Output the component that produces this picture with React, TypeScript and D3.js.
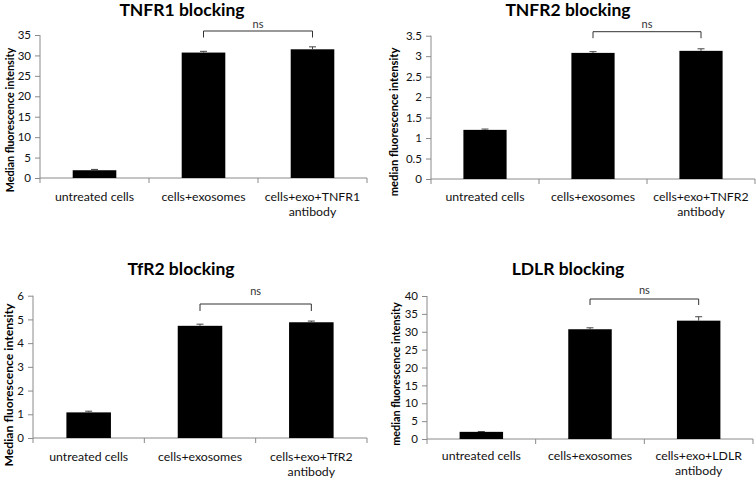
import { useRef, useEffect } from "react";
import * as d3 from "d3";

const baseCategories = ["untreated cells", "cells+exosomes"];

const tnfr1Values = [1.9, 30.7, 31.5];
const tnfr1Errors = [0.2, 0.3, 0.6];
const tnfr1Ticks = [0, 5, 10, 15, 20, 25, 30, 35];

const tnfr2Values = [1.2, 3.08, 3.13];
const tnfr2Errors = [0.02, 0.03, 0.05];
const tnfr2Ticks = [0, 0.5, 1, 1.5, 2, 2.5, 3, 3.5];

const tfr2Values = [1.08, 4.73, 4.88];
const tfr2Errors = [0.05, 0.07, 0.05];
const tfr2Ticks = [0, 1, 2, 3, 4, 5, 6];

const ldlrValues = [2.0, 30.7, 33.1];
const ldlrErrors = [0.1, 0.4, 1.1];
const ldlrTicks = [0, 5, 10, 15, 20, 25, 30, 35, 40];

const FONT = "Lato, 'Open Sans', sans-serif";

const panels = [
  {
    title: "TNFR1 blocking", yLabel: "Median fluorescence intensity", target: "TNFR1",
    values: tnfr1Values, errors: tnfr1Errors, ticks: tnfr1Ticks,
    x0: 40, x1: 367, yTop: 35, yBot: 178, titleX: 182, titleY: 16,
    labX: 9, labY: 120, labSize: 10.8, nsY: 28, brY: 31, brDrop: 6.5, xlY: 201,
  },
  {
    title: "TNFR2 blocking", yLabel: "median fluorescence intensity", target: "TNFR2",
    values: tnfr2Values, errors: tnfr2Errors, ticks: tnfr2Ticks,
    x0: 431, x1: 755, yTop: 35.7, yBot: 179, titleX: 568, titleY: 16,
    labX: 393, labY: 122, labSize: 11.2, nsY: 28, brY: 31.7, brDrop: 6.5, xlY: 201,
  },
  {
    title: "TfR2 blocking", yLabel: "Median fluorescence intensity", target: "TfR2",
    values: tfr2Values, errors: tfr2Errors, ticks: tfr2Ticks,
    x0: 33, x1: 367, yTop: 295.7, yBot: 438, titleX: 181, titleY: 275,
    labX: 8, labY: 385, labSize: 12.2, nsY: 295, brY: 304, brDrop: 7, xlY: 461,
  },
  {
    title: "LDLR blocking", yLabel: "median fluorescence intensity", target: "LDLR",
    values: ldlrValues, errors: ldlrErrors, ticks: ldlrTicks,
    x0: 427, x1: 753, yTop: 296, yBot: 439, titleX: 568, titleY: 275,
    labX: 395, labY: 374, labSize: 10.8, nsY: 294, brY: 299, brDrop: 6, xlY: 460,
  },
];

export default function App() {
  const svgRef = useRef<SVGSVGElement>(null);

  useEffect(() => {
    const svg = d3.select(svgRef.current);
    svg.selectAll("*").remove();
    svg.append("rect").attr("width", 756).attr("height", 480).attr("fill", "#fff");

    panels.forEach((p) => {
      const cats = [...baseCategories, `cells+exo+${p.target} antibody`];
      const g = svg.append("g");

      const x = d3.scaleBand<string>().domain(cats).range([p.x0, p.x1]).paddingInner(0.6).paddingOuter(0.3);
      const step = (p.x1 - p.x0) / cats.length;
      const yMax = p.ticks[p.ticks.length - 1];
      const y = d3.scaleLinear().domain([0, yMax]).range([p.yBot, p.yTop]);

      // Title
      g.append("text")
        .attr("x", p.titleX).attr("y", p.titleY)
        .attr("text-anchor", "middle")
        .attr("font-family", FONT).attr("font-weight", 700).attr("font-size", 17.5)
        .attr("fill", "#000").text(p.title);

      // Y axis
      g.append("g")
        .attr("transform", `translate(${p.x0},0)`)
        .call(d3.axisLeft(y).tickValues(p.ticks).tickSize(5).tickPadding(4).tickFormat((d) => String(d)))
        .call((a) => {
          a.select(".domain").attr("stroke", "#8a8a8a").attr("d", `M0,${p.yTop}V${p.yBot}`);
          a.selectAll("line").attr("stroke", "#8a8a8a");
          a.selectAll("text").attr("fill", "#111").attr("font-size", 11.5).attr("font-family", FONT);
        });

      // X axis line with ticks at category boundaries
      g.append("line")
        .attr("x1", p.x0).attr("x2", p.x1).attr("y1", p.yBot).attr("y2", p.yBot)
        .attr("stroke", "#8a8a8a");
      d3.range(cats.length + 1).forEach((i) => {
        const tx = p.x0 + i * step;
        g.append("line")
          .attr("x1", tx).attr("x2", tx).attr("y1", p.yBot).attr("y2", p.yBot + 5)
          .attr("stroke", "#8a8a8a");
      });

      // Bars
      g.selectAll(".bar")
        .data(p.values)
        .enter()
        .append("rect")
        .attr("x", (_, i) => x(cats[i])!)
        .attr("y", (d) => y(d))
        .attr("width", x.bandwidth())
        .attr("height", (d) => p.yBot - y(d))
        .attr("fill", "#000");

      // Error bars (upper)
      p.values.forEach((v, i) => {
        const cx = x(cats[i])! + x.bandwidth() / 2;
        const top = y(v + p.errors[i]);
        g.append("line").attr("x1", cx).attr("x2", cx).attr("y1", y(v)).attr("y2", top)
          .attr("stroke", "#444").attr("stroke-width", 1);
        g.append("line").attr("x1", cx - 3.5).attr("x2", cx + 3.5).attr("y1", top).attr("y2", top)
          .attr("stroke", "#444").attr("stroke-width", 1);
      });

      // x labels
      cats.forEach((c, i) => {
        const cx = x(cats[i])! + x.bandwidth() / 2;
        const lines = i === 2 ? [`cells+exo+${p.target}`, "antibody"] : [c];
        lines.forEach((ln, j) => {
          g.append("text")
            .attr("x", cx).attr("y", p.xlY + j * 15)
            .attr("text-anchor", "middle")
            .attr("font-family", FONT).attr("font-size", 12.3)
            .attr("fill", "#111").text(ln);
        });
      });

      // Y label
      g.append("text")
        .attr("transform", `translate(${p.labX},${p.labY}) rotate(-90)`)
        .attr("text-anchor", "middle").attr("dominant-baseline", "central")
        .attr("font-family", FONT).attr("font-weight", 700).attr("font-size", p.labSize)
        .attr("fill", "#000").text(p.yLabel);

      // ns bracket
      const bx1 = x(cats[1])! + x.bandwidth() / 2;
      const bx2 = x(cats[2])! + x.bandwidth() / 2;
      g.append("path")
        .attr("d", `M${bx1},${p.brY + p.brDrop}V${p.brY}H${bx2}V${p.brY + p.brDrop}`)
        .attr("fill", "none").attr("stroke", "#333").attr("stroke-width", 1);
      g.append("text")
        .attr("x", (bx1 + bx2) / 2).attr("y", p.nsY)
        .attr("text-anchor", "middle")
        .attr("font-family", FONT).attr("font-size", 11)
        .attr("fill", "#333").text("ns");
    });
  }, []);

  return (
    <div style={{ position: "absolute", left: 0, top: 0 }}>
      <svg ref={svgRef} width={756} height={480} style={{ display: "block" }} />
    </div>
  );
}
